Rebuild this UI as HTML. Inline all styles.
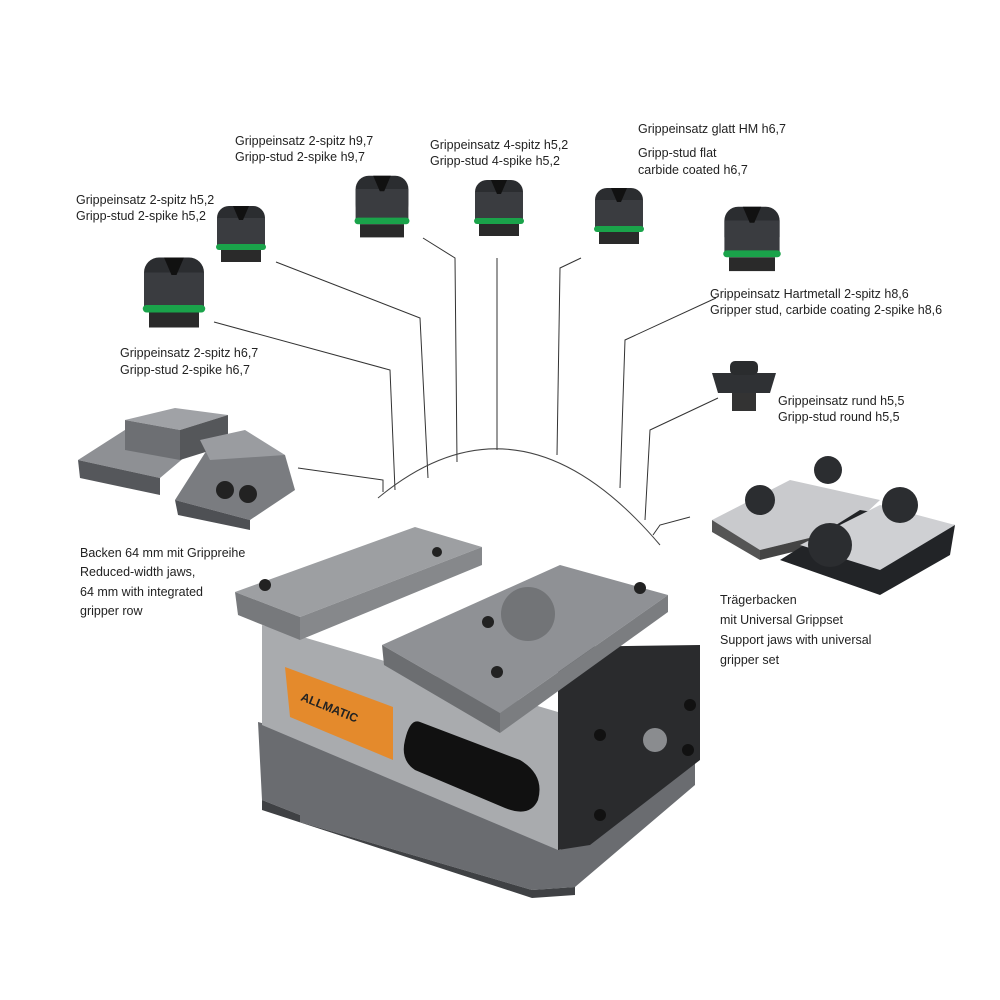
<!DOCTYPE html>
<html><head><meta charset="utf-8"><style>
html,body{margin:0;padding:0;background:#fff;width:1000px;height:1000px;overflow:hidden}
svg{display:block}
text{font-family:"Liberation Sans",sans-serif;font-size:12.5px;fill:#222}
</style></head><body>
<svg width="1000" height="1000" viewBox="0 0 1000 1000">
<defs>
<g id="stud">
<rect x="-24" y="-22" width="48" height="38" rx="12" fill="#2b2d30"/>
<rect x="-24" y="-10" width="48" height="28" fill="#3a3c40"/>
<rect x="-25" y="16" width="50" height="6" rx="3" fill="#1aa34a"/>
<rect x="-20" y="22" width="40" height="12" fill="#2a2a2a"/>
<path d="M-8,-22 L-2,-8 L2,-8 L8,-22" fill="#111"/>
</g>
</defs>
<g fill="none" stroke="#333" stroke-width="1">
<polyline points="214,322 390,370 395,490"/>
<polyline points="276,262 420,318 428,478"/>
<polyline points="423,238 455,258 457,462"/>
<polyline points="497,258 497,450"/>
<polyline points="581,258 560,268 557,455"/>
<polyline points="716,298 625,340 620,488"/>
<polyline points="718,398 650,430 645,520"/>
<polyline points="298,468 383,480 383,492"/>
<polyline points="690,517 660,525 653,535"/>
<path d="M378,498 Q520,380 660,545" stroke="#444"/>
</g>
<use href="#stud" transform="translate(174,285) scale(1.25)"/>
<use href="#stud" transform="translate(241,228)"/>
<use href="#stud" transform="translate(382,200) scale(1.1)"/>
<use href="#stud" transform="translate(499,202)"/>
<use href="#stud" transform="translate(619,210)"/>
<use href="#stud" transform="translate(752,232) scale(1.15)"/>
<g transform="translate(744,383)">
<path d="M-32,-10 L32,-10 L26,10 L-26,10 Z" fill="#2f3134"/>
<rect x="-14" y="-22" width="28" height="14" rx="5" fill="#2a2c2e"/>
<rect x="-12" y="10" width="24" height="18" fill="#333"/>
</g>
<polygon points="78,460 128,428 205,440 160,478" fill="#8e9094"/>
<polygon points="78,460 160,478 160,495 80,478" fill="#55575b"/>
<polygon points="125,420 175,408 228,415 180,430" fill="#a0a2a6"/>
<polygon points="125,420 180,430 180,460 125,450" fill="#6d6f73"/>
<polygon points="180,430 228,415 228,445 180,460" fill="#55575a"/>
<polygon points="175,500 210,445 285,455 295,490 250,520" fill="#7a7c80"/>
<polygon points="175,500 250,520 250,530 178,515" fill="#4e5054"/>
<polygon points="200,440 245,430 285,455 210,460" fill="#9a9ca0"/>
<circle cx="225" cy="490" r="9" fill="#222"/><circle cx="248" cy="494" r="9" fill="#222"/>
<polygon points="712,520 790,480 880,500 850,528 760,550" fill="#c9cacd"/>
<polygon points="712,520 760,550 760,560 712,532" fill="#555"/>
<polygon points="760,550 850,528 850,538 760,560" fill="#444"/>
<polygon points="780,560 860,510 955,525 950,555 880,595" fill="#222427"/>
<polygon points="800,545 880,505 955,525 880,570" fill="#cfd0d3"/>
<circle cx="760" cy="500" r="15" fill="#2b2d30"/>
<circle cx="828" cy="470" r="14" fill="#2b2d30"/>
<circle cx="830" cy="545" r="22" fill="#2b2d30"/>
<circle cx="900" cy="505" r="18" fill="#2b2d30"/>
<!-- vise base -->
<polygon points="258,722 400,760 560,850 695,760 695,785 575,887 532,890 300,822 300,815 262,800" fill="#6a6c70"/>
<polygon points="262,800 300,815 300,822 532,890 575,887 575,895 532,898 262,810" fill="#3f4144"/>
<!-- body front -->
<polygon points="262,625 558,712 558,850 262,725" fill="#a9abae"/>
<polygon points="285,667 393,707 393,760 290,717" fill="#e48a2c"/>
<text x="300" y="700" transform="rotate(22 300 700)" style="font-size:12px;font-weight:bold;fill:#222">ALLMATIC</text>
<path d="M420,722 L520,760 Q545,775 538,800 Q530,818 505,808 L415,770 Q400,760 405,740 Q410,718 420,722 Z" fill="#111"/>
<!-- left jaw plate -->
<polygon points="235,592 415,527 482,547 300,617" fill="#9d9fa2"/>
<polygon points="235,592 300,617 300,640 238,615" fill="#77797c"/>
<polygon points="300,617 482,547 482,565 300,640" fill="#86888b"/>
<circle cx="437" cy="552" r="5" fill="#222"/><circle cx="265" cy="585" r="6" fill="#222"/>
<!-- right dark block -->
<polygon points="558,647 700,645 700,760 590,845 558,850" fill="#2a2b2d"/>
<circle cx="655" cy="740" r="12" fill="#8a8c8f"/>
<circle cx="600" cy="735" r="6" fill="#111"/><circle cx="690" cy="705" r="6" fill="#111"/>
<circle cx="688" cy="750" r="6" fill="#111"/><circle cx="600" cy="815" r="6" fill="#111"/>
<!-- right jaw plate -->
<polygon points="382,645 560,565 668,595 500,713" fill="#8f9195"/>
<polygon points="382,645 500,713 500,733 384,665" fill="#6c6e71"/>
<polygon points="500,713 668,595 668,612 500,733" fill="#7b7d80"/>
<circle cx="528" cy="614" r="27" fill="#727477"/>
<circle cx="488" cy="622" r="6" fill="#222"/><circle cx="497" cy="672" r="6" fill="#222"/>
<circle cx="640" cy="588" r="6" fill="#222"/>
<text x="235" y="145">Grippeinsatz 2-spitz h9,7</text>
<text x="235" y="161">Gripp-stud 2-spike h9,7</text>
<text x="430" y="149">Grippeinsatz 4-spitz h5,2</text>
<text x="430" y="165">Gripp-stud 4-spike h5,2</text>
<text x="638" y="133">Grippeinsatz glatt HM h6,7</text>
<text x="638" y="157">Gripp-stud flat</text>
<text x="638" y="174">carbide coated h6,7</text>
<text x="76" y="204">Grippeinsatz 2-spitz h5,2</text>
<text x="76" y="220">Gripp-stud 2-spike h5,2</text>
<text x="710" y="298">Grippeinsatz Hartmetall 2-spitz h8,6</text>
<text x="710" y="314">Gripper stud, carbide coating 2-spike h8,6</text>
<text x="120" y="357">Grippeinsatz 2-spitz h6,7</text>
<text x="120" y="374">Gripp-stud 2-spike h6,7</text>
<text x="778" y="405">Grippeinsatz rund h5,5</text>
<text x="778" y="421">Gripp-stud round h5,5</text>
<text x="80" y="557">Backen 64 mm mit Grippreihe</text>
<text x="80" y="576">Reduced-width jaws,</text>
<text x="80" y="596">64 mm with integrated</text>
<text x="80" y="615">gripper row</text>
<text x="720" y="604">Trägerbacken</text>
<text x="720" y="624">mit Universal Grippset</text>
<text x="720" y="644">Support jaws with universal</text>
<text x="720" y="664">gripper set</text>
</svg>
</body></html>
